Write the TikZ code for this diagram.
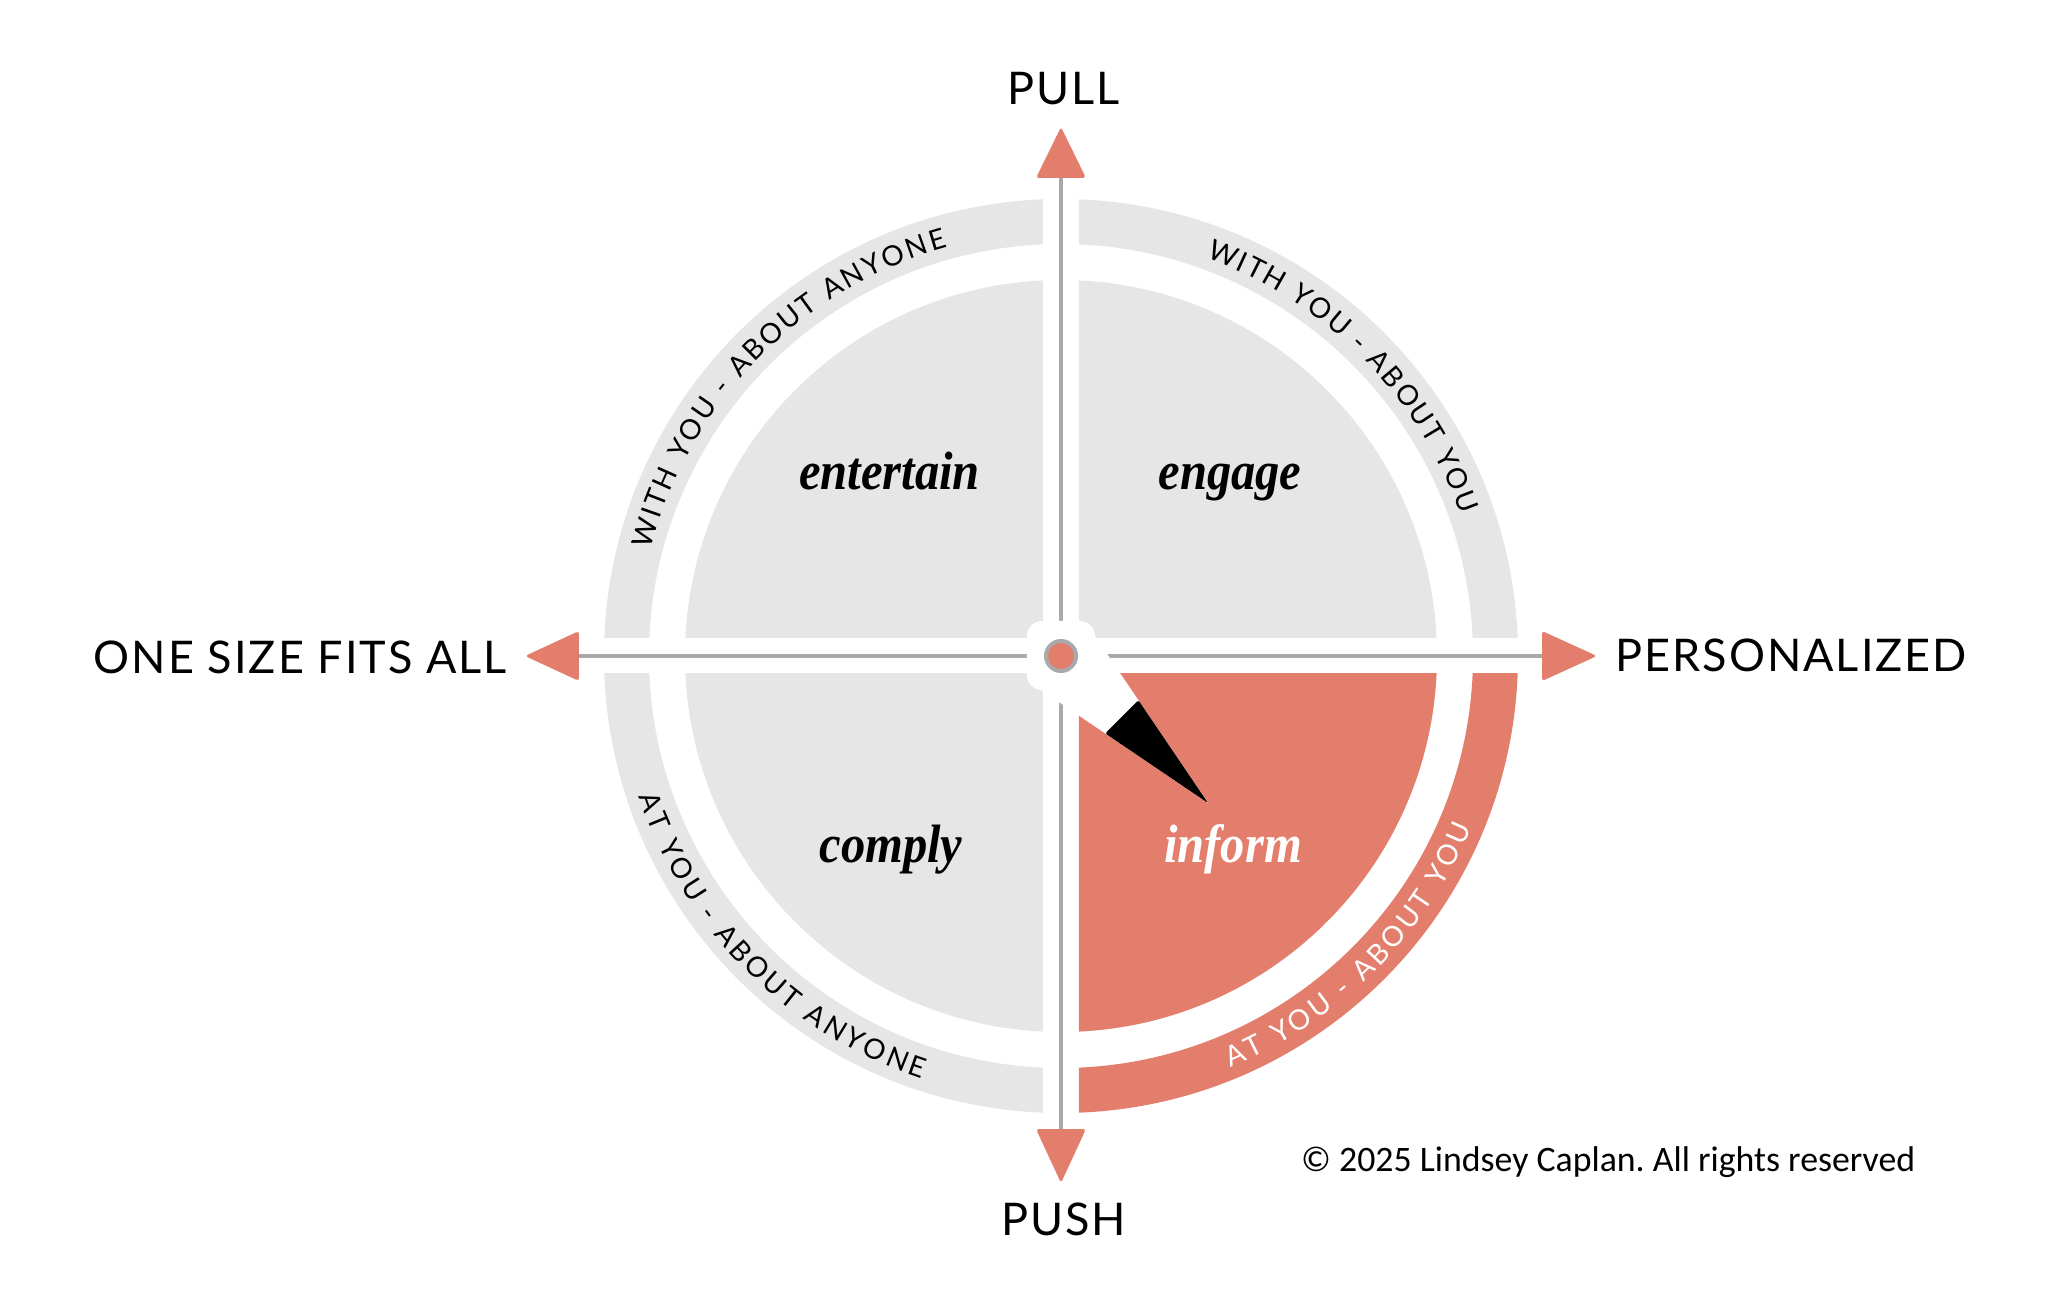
\documentclass[tikz,border=0pt]{standalone}
\usepackage{fontspec}
\usepackage{graphicx}
\usetikzlibrary{decorations.text}
\setmainfont{Lato}
\newfontfamily\labfont[LetterSpace=4.5]{Lato}
\newfontfamily\arcfont{Lato}
\newfontfamily\wordfont[FakeStretch=0.9]{Liberation Serif}
\newfontfamily\copyfont{Carlito}
\definecolor{salmon}{HTML}{E47E6C}
\definecolor{qgray}{HTML}{E6E6E6}
\definecolor{axgray}{HTML}{A9A9AC}
\frenchspacing
\tikzset{
  axlabel/.style={inner sep=0pt, font=\labfont\fontsize{45}{50}\selectfont, text=black},
  qword/.style={inner sep=0pt, font=\wordfont\fontsize{54}{60}\selectfont\bfseries\itshape},
  axline/.style={draw=axgray, line width=4pt},
  arrowhead/.style={fill=salmon, rounded corners=3pt},
  arctext/.style={decorate, decoration={text along path, text align={fit to path}, text={#1}}}
}
\begin{document}
\begin{tikzpicture}[x=1pt,y=1pt]
\useasboundingbox (-1061,-653) rectangle (987,656);
\fill[white] (-1061,-653) rectangle (987,656);

% quadrants and ring segments
\foreach \sx/\sy/\col in {1/1/qgray, -1/1/qgray, -1/-1/qgray, 1/-1/salmon} {
  \begin{scope}
    \clip (\sx*18,\sy*18) rectangle (\sx*520,\sy*520);
    \fill[\col] (0,0) circle (376);
    \fill[\col, even odd rule] (0,0) circle (457) (0,0) circle (412);
  \end{scope}
}

% axes
\coordinate (ctr) at (0,0);
\coordinate (topb) at (0,478);
\coordinate (topt) at (0,529);
\coordinate (botb) at (0,-473);
\coordinate (bott) at (0,-527);
\coordinate (leftb) at (-482,0);
\coordinate (leftt) at (-536,0);
\coordinate (rightb) at (481,0);
\coordinate (rightt) at (536,0);
\draw[axline] (topb) -- (botb);
\draw[axline] (leftb) -- (rightb);
\fill[arrowhead] (topt) -- ([xshift=25pt]topb) -- ([xshift=-25pt]topb) -- cycle;
\fill[arrowhead] (bott) -- ([xshift=25pt]botb) -- ([xshift=-25pt]botb) -- cycle;
\fill[arrowhead] (leftt) -- ([yshift=25pt]leftb) -- ([yshift=-25pt]leftb) -- cycle;
\fill[arrowhead] (rightt) -- ([yshift=25pt]rightb) -- ([yshift=-25pt]rightb) -- cycle;

% centre blob and needle
\fill[white, rounded corners=15pt] (-34,-34) rectangle (34,35);
\coordinate (nw1) at (28.3,28.3);
\coordinate (nw2) at (-28.3,-28.3);
\coordinate (ntip) at (147,-147);
\coordinate (nb1) at (77.4,-44.2);
\coordinate (nb2) at (44.2,-77.4);
\fill[white] (nw1) -- (ntip) -- (nw2) -- cycle;
\fill[black, rounded corners=1.5pt] (nb1) -- (ntip) -- (nb2) -- cycle;
\draw[axgray, line width=4pt, fill=salmon] (ctr) circle (15);

% axis labels
\node[axlabel, anchor=base] (pull) at (2.5,551) {PULL};
\node[axlabel, anchor=base] (push) at (2.5,-579) {PUSH};
\node[axlabel, anchor=base east] (osfa) at (-554,-18) {ONE SIZE FITS ALL};
\node[axlabel, anchor=base west] (pers) at (554,-16) {PERSONALIZED};

% quadrant words
\node[qword, anchor=base] (entertain) at (-171.5,166) {entertain};
\node[qword, anchor=base] (engage) at (169,166) {engage};
\node[qword, anchor=base] (comply) at (-170,-206) {comply};
\node[qword, anchor=base, text=white] (inform) at (172,-206) {inform};

% ring texts
\path[arctext={|\arcfont\fontsize{28}{32}\selectfont|WITH YOU - ABOUT ANYONE}]
  (165.5:424) arc[start angle=165.5, end angle=105.5, radius=424];
\path[arctext={|\arcfont\fontsize{28}{32}\selectfont|WITH YOU - ABOUT YOU}]
  (70:424) arc[start angle=70, end angle=19.5, radius=424];
\path[arctext={|\arcfont\fontsize{28}{32}\selectfont|AT YOU - ABOUT ANYONE}]
  (198.4:445) arc[start angle=198.4, end angle=251.8, radius=445];
\path[arctext={|\arcfont\fontsize{28}{32}\selectfont\color{white}|AT YOU - ABOUT YOU}]
  (292.4:445) arc[start angle=292.4, end angle=337.3, radius=445];

% copyright
\node[inner sep=0pt, anchor=base west] (copy) at (240,-515)
  {\resizebox{614pt}{!}{\copyfont\fontsize{36}{40}\selectfont \textcopyright{} 2025 Lindsey Caplan. All rights reserved}};
\end{tikzpicture}
\end{document}
